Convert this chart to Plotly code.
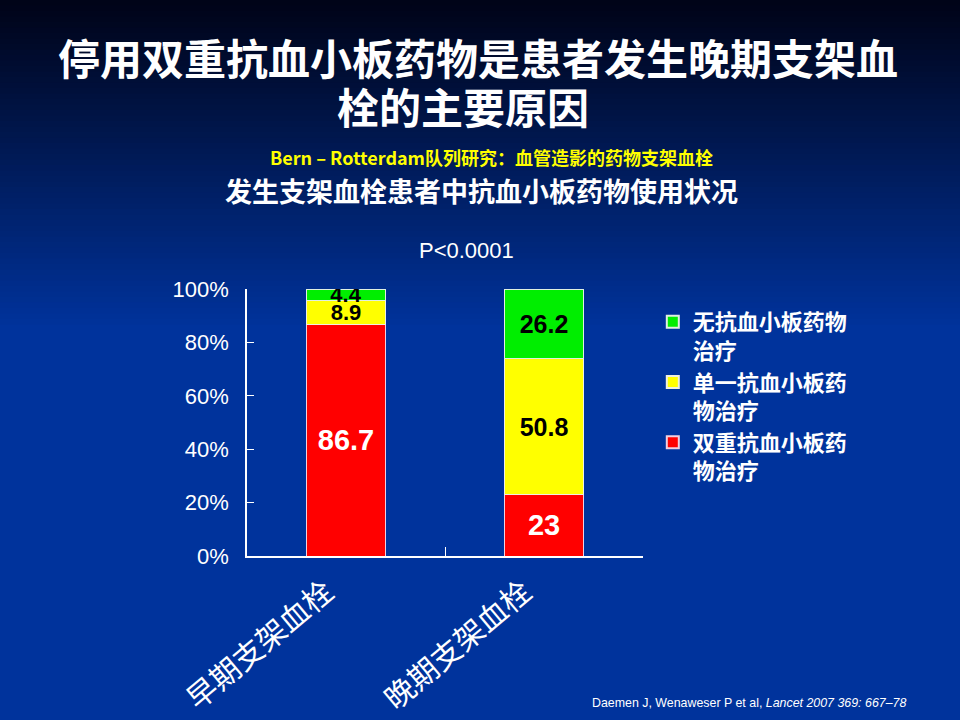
import plotly.graph_objects as go

categories = ["早期支架血栓", "晚期支架血栓"]
dual_vals = [86.7, 23]
single_vals = [8.9, 50.8]
none_vals = [4.4, 26.2]
series_names = ["双重抗血小板药<br>物治疗", "单一抗血小板药<br>物治疗", "无抗血小板药物<br>治疗"]
y_ticks = [0, 20, 40, 60, 80, 100]
y_tick_labels = ["0%", "20%", "40%", "60%", "80%", "100%"]

title_l1 = "停用双重抗血小板药物是患者发生晚期支架血"
title_l2 = "栓的主要原因"
subtitle1 = "Bern – Rotterdam队列研究：血管造影的药物支架血栓"
subtitle2 = "发生支架血栓患者中抗血小板药物使用状况"
pval = "P<0.0001"
footnote = "Daemen J, Wenaweser P et al, <i>Lancet 2007 369: 667–78</i>"

CJK = "Noto Sans CJK SC"
ARIAL = "Liberation Sans"

fig = go.Figure()
fig.add_trace(go.Bar(
    x=categories, y=dual_vals, name=series_names[0],
    marker=dict(color="#ff0000", line=dict(color="#f0d0e0", width=1)),
    text=[f"{v:g}" for v in dual_vals], textposition="inside",
    insidetextanchor="middle", constraintext="none",
    textfont=dict(family=ARIAL, size=[29, 29], color="white", weight="bold"),
))
fig.add_trace(go.Bar(
    x=categories, y=single_vals, name=series_names[1],
    marker=dict(color="#ffff00", line=dict(color="#f0f0e0", width=1)),
    text=[f"{v:g}" for v in single_vals], textposition="inside",
    insidetextanchor="middle", constraintext="none",
    textfont=dict(family=ARIAL, size=[22, 25], color="black", weight="bold"),
))
fig.add_trace(go.Bar(
    x=categories, y=none_vals, name=series_names[2],
    marker=dict(color="#00ee00", line=dict(color="#e0f0e0", width=1)),
    text=[f"{v:g}" for v in none_vals], textposition="inside",
    insidetextanchor="middle", constraintext="none",
    textfont=dict(family=ARIAL, size=[22, 25], color="black", weight="bold"),
))

# background gradient
shapes = []
n = 60
top = (0, 4, 24)
bot = (0, 51, 156)
grad_h = 330
for i in range(n):
    t = i / (n - 1)
    c = tuple(int(top[k] + (bot[k] - top[k]) * t) for k in range(3))
    y0 = i * grad_h / n
    y1 = (i + 1) * grad_h / n + 1
    shapes.append(dict(type="rect", xref="paper", yref="paper", layer="below",
                       x0=0, x1=1, y0=1 - y1 / 720, y1=1 - y0 / 720,
                       fillcolor=f"rgb{c}", line=dict(width=0)))
shapes.append(dict(type="rect", xref="paper", yref="paper", layer="below",
                   x0=0, x1=1, y0=0, y1=1 - grad_h / 720,
                   fillcolor="rgb(0,51,156)", line=dict(width=0)))


def ann(text, x, y, size, color="white", family=CJK, bold=True, xanchor="center"):
    return dict(text=text, x=x / 960, y=1 - y / 720, xref="paper", yref="paper",
                xanchor=xanchor, yanchor="middle", showarrow=False,
                font=dict(family=family, size=size, color=color,
                          weight="bold" if bold else "normal"))


fig.update_layout(
    width=960, height=720,
    margin=dict(l=0, r=0, t=0, b=0, autoexpand=False),
    paper_bgcolor="#00339c", plot_bgcolor="rgba(0,0,0,0)",
    barmode="stack", bargap=0.6,
    shapes=shapes,
    showlegend=True,
    legend=dict(x=0.68, y=0.582, xanchor="left", yanchor="top",
                traceorder="reversed", valign="top",
                font=dict(family=CJK, size=22, color="white", weight="bold"),
                bgcolor="rgba(0,0,0,0)", itemsizing="constant",
                tracegroupgap=3, itemwidth=30),
    xaxis=dict(domain=[247 / 960, 643 / 960], showline=True, linecolor="white",
               linewidth=1.5, ticks="inside", tickson="boundaries",
               ticklen=9, tickcolor="white", tickangle=-40, automargin=False,
               ticklabelshift=-20, ticklabelstandoff=5,
               tickfont=dict(family=CJK, size=30, color="white"),
               showgrid=False, zeroline=False),
    yaxis=dict(domain=[1 - 556 / 720, 1 - 289 / 720], range=[0, 100],
               showline=True, linecolor="white", linewidth=1.5, automargin=False,
               ticks="inside", ticklen=7, tickcolor="white",
               tickvals=y_ticks, ticktext=y_tick_labels,
               tickfont=dict(family=ARIAL, size=22, color="white"),
               ticklabelstandoff=12,
               showgrid=False, zeroline=False),
    annotations=[
        ann(title_l1, 478, 57, 42),
        ann(title_l2, 463, 105, 42),
        ann(subtitle1, 491, 157, 18, color="#ffff00"),
        ann(subtitle2, 481, 191, 27),
        ann(pval, 466, 250, 22, family=ARIAL, bold=False),
        ann(footnote, 590, 703, 12.4, family=ARIAL, bold=False, xanchor="left"),
    ],
)

fig.write_html("out.html", config={"displayModeBar": False},
               post_script="document.body.style.margin='0';")
